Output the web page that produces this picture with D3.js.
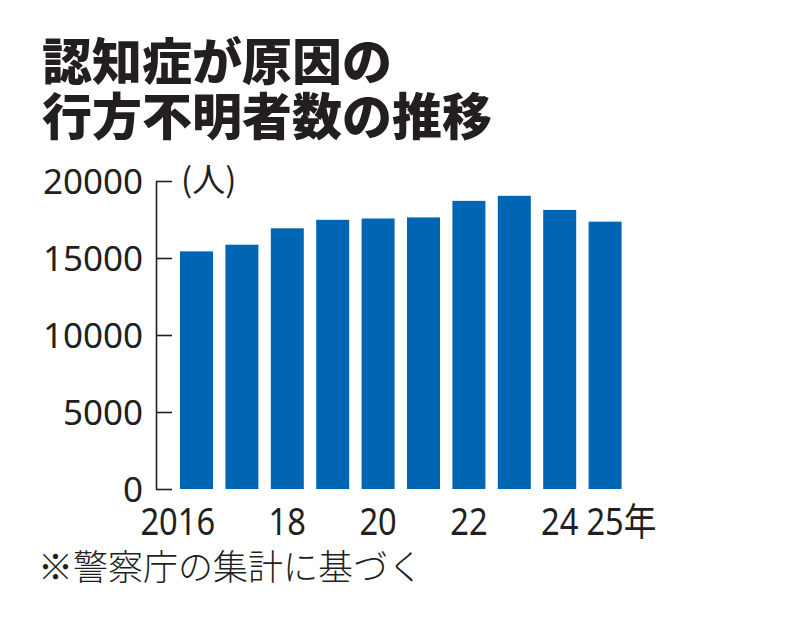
<!DOCTYPE html>
<html>
<head>
<meta charset="utf-8">
<script src="https://cdn.jsdelivr.net/npm/d3@7"></script>
<style>
  html, body { margin: 0; padding: 0; background: #fff; }
  svg { display: block; }
</style>
</head>
<body>
<script>
// データ
var years = [2016, 2017, 2018, 2019, 2020, 2021, 2022, 2023, 2024, 2025];
var counts = [15432, 15863, 16927, 17479, 17565, 17636, 18709, 19039, 18121, 17360];
var yTicks = [0, 5000, 10000, 15000, 20000];
var xTickYears = [2016, 2018, 2020, 2022, 2024, 2025];
var xTickLabels = ["2016", "18", "20", "22", "24", "25年"];

var titleLines = ["認知症が原因の", "行方不明者数の推移"];
var unitLabel = "(人)";
var note = "※警察庁の集計に基づく";

chart();

function chart ()
{
    var width = 800, height = 623;
    var ink = "#231f20", barColor = "#0066b3";

    var svg = d3.select("body").append("svg")
            .attr("width", width)
            .attr("height", height);

    // タイトル
    svg.append("g").selectAll("text")
            .data(titleLines)
            .join("text")
            .attr("x", 42)
            .attr("y", function (d, i) { return 80 + i * 55; })
            .attr("font-family", "'Noto Sans CJK JP', sans-serif")
            .attr("font-weight", 900)
            .attr("font-size", 50)
            .attr("fill", ink)
            .text(function (d) { return d; });

    var x = d3.scaleBand()
            .domain(years)
            .range([180, 621.6])
            .paddingInner(0.273)
            .paddingOuter(0);

    var y = d3.scaleLinear()
            .domain([0, 20000])
            .range([489, 181]);

    // 棒
    svg.append("g").selectAll("rect")
            .data(years)
            .join("rect")
            .attr("x", function (d) { return x(d); })
            .attr("y", function (d, i) { return y(counts[i]); })
            .attr("width", x.bandwidth())
            .attr("height", function (d, i) { return y(0) - y(counts[i]); })
            .attr("fill", barColor);

    // 縦軸（目盛りは内側）
    var yAxis = d3.axisLeft(y)
            .tickValues(yTicks)
            .tickFormat(d3.format("d"))
            .tickSize(-16)
            .tickSizeOuter(0)
            .tickPadding(13);

    var gy = svg.append("g")
            .attr("transform", "translate(156,0)")
            .call(yAxis);
    gy.selectAll("path, line").attr("stroke", ink).attr("stroke-width", 1.6);
    gy.selectAll("text")
            .attr("font-family", "'Noto Sans', sans-serif")
            .attr("font-size", 35)
            .attr("fill", ink)
            .attr("dy", "0.36em");

    // 単位
    svg.append("text")
            .attr("x", 181)
            .attr("y", 192)
            .attr("font-family", "'Noto Sans CJK JP', sans-serif")
            .attr("font-size", 33)
            .attr("fill", ink)
            .text(unitLabel);

    // 横軸ラベル（下2桁を棒の中央に）
    var xAxis = d3.axisBottom(x)
            .tickValues(xTickYears)
            .tickFormat(function (d) { return xTickLabels[xTickYears.indexOf(d)]; })
            .tickSize(0)
            .tickPadding(0);

    var gx = svg.append("g")
            .attr("transform", "translate(0,535)")
            .call(xAxis);
    gx.select(".domain").remove();
    gx.selectAll("text")
            .attr("font-family", "'Noto Sans', 'Noto Sans CJK JP', sans-serif")
            .attr("font-size", 38)
            .attr("fill", ink)
            .attr("y", 0)
            .attr("dy", 0)
            .attr("text-anchor", "start")
            .attr("transform", "scale(0.86,1)")
            .each(function (d) {
                var s = d3.select(this).text();
                var start = s.length === 4 ? 2 : 0;
                var pre = start > 0 ? this.getSubStringLength(0, start) : 0;
                var core = this.getSubStringLength(start, 2);
                d3.select(this).attr("x", -pre - core / 2);
            });

    // 注記
    svg.append("text")
            .attr("x", 38)
            .attr("y", 580)
            .attr("font-family", "'Noto Sans CJK JP', sans-serif")
            .attr("font-weight", 300)
            .attr("font-size", 35)
            .attr("fill", ink)
            .text(note);
}
</script>
</body>
</html>
